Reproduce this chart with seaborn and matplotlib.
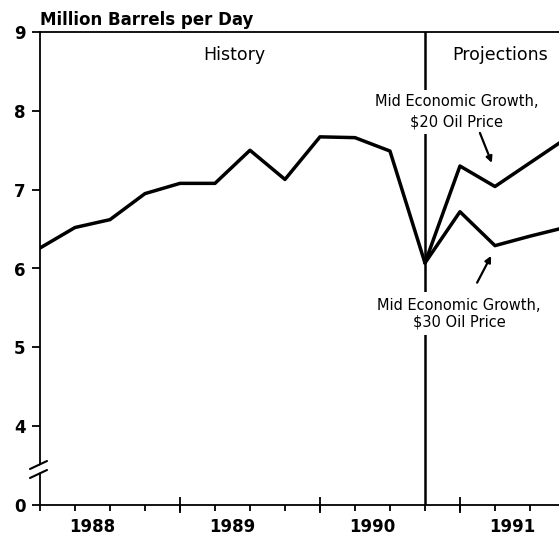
import numpy as np
import pandas as pd
import matplotlib
matplotlib.use("Agg")
import matplotlib.pyplot as plt
import seaborn as sns

sns.set_theme(style="white")
plt.rcParams["font.family"] = ["DejaVu Sans"]
plt.rcParams["text.color"] = "black"
plt.rcParams["xtick.color"] = "black"
plt.rcParams["ytick.color"] = "black"

# quarterly index: 0 = 1988 Q1
years = ["1988", "1989", "1990", "1991"]
year_centers = [1.5, 5.5, 9.5, 13.5]
year_starts = [4, 8, 12]
quarters = list(range(15))

hist_q = list(range(12))
hist_val = [6.26, 6.52, 6.62, 6.95, 7.08, 7.08, 7.50, 7.13, 7.67, 7.66, 7.49, 6.07]
proj_q = [11, 12, 13, 14, 15]
proj_20 = [6.07, 7.30, 7.04, 7.34, 7.64]
proj_30 = [6.07, 6.72, 6.29, 6.41, 6.52]

ytick_vals = [0, 4, 5, 6, 7, 8, 9]
# broken axis: 0 is drawn one unit below 4
ytick_pos = [3 if v == 0 else v for v in ytick_vals]
split_q = 11

fig = plt.figure(figsize=(5.59, 5.37), dpi=100)
ax = fig.add_axes([40 / 559, 32 / 537, 519 / 559, 473 / 537])

df = pd.concat([
    pd.DataFrame({"q": hist_q, "mbd": hist_val, "s": "hist"}),
    pd.DataFrame({"q": proj_q, "mbd": proj_20, "s": "p20"}),
    pd.DataFrame({"q": proj_q, "mbd": proj_30, "s": "p30"}),
])
for name, grp in df.groupby("s"):
    sns.lineplot(data=grp, x="q", y="mbd", ax=ax, color="black", lw=2.5,
                 estimator=None, sort=False, zorder=4)

ax.axvline(split_q, color="black", lw=1.8, zorder=1)

ax.set_xlim(0, 14.83)
ax.set_ylim(3, 9)
ax.set_xlabel("")
ax.set_ylabel("")

for side in ["left", "bottom", "top"]:
    ax.spines[side].set_color("black")
    ax.spines[side].set_linewidth(1.3)
ax.spines["right"].set_visible(False)

ax.set_yticks(ytick_pos)
ax.set_yticklabels([str(v) for v in ytick_vals], fontsize=12, fontweight="bold")
ax.tick_params(axis="y", direction="out", length=5.5, width=1.3, pad=5, left=True)

ax.set_xticks(year_centers)
ax.set_xticklabels(years, fontsize=12, fontweight="bold")
ax.set_xticks(quarters, minor=True)
ax.tick_params(axis="x", which="major", length=0, pad=9)
ax.tick_params(axis="x", which="minor", direction="out", length=4, width=1.3, bottom=True)

sec = ax.secondary_xaxis("bottom")
sec.set_xticks(year_starts)
sec.tick_params(direction="inout", length=11, width=1.3, labelbottom=False, color="black")
sec.spines["bottom"].set_visible(False)

# axis break marks
gap = plt.Polygon([(-0.0193, 0.0741), (0.0135, 0.0911), (0.0135, 0.0759), (-0.0193, 0.0589)],
                  closed=True, transform=ax.transAxes, fc="white", ec="none",
                  clip_on=False, zorder=5)
ax.add_patch(gap)
ax.plot([-0.0193, 0.0135], [0.0761, 0.0930], transform=ax.transAxes, color="black",
        lw=1.5, clip_on=False, zorder=6)
ax.plot([-0.0193, 0.0135], [0.0571, 0.0740], transform=ax.transAxes, color="black",
        lw=1.5, clip_on=False, zorder=6)

fig.text(40 / 559, 1 - 20 / 537, "Million Barrels per Day", fontsize=12,
         fontweight="bold", va="center", ha="left")

ax.text(5.54, 8.71, "History", fontsize=12.5, ha="center", va="center")
ax.text(13.14, 8.71, "Projections", fontsize=12.5, ha="center", va="center",
        bbox=dict(fc="white", ec="none", pad=1))

ax.text(11.91, 7.99, "Mid Economic Growth,\n$20 Oil Price", fontsize=10.5,
        ha="center", va="center", linespacing=1.45, zorder=3,
        bbox=dict(fc="white", ec="none", pad=3))
ax.text(11.97, 5.43, "Mid Economic Growth,\n$30 Oil Price", fontsize=10.5,
        ha="center", va="center", linespacing=1.15, zorder=3,
        bbox=dict(fc="white", ec="none", pad=4))

arrow = dict(arrowstyle="-|>", color="black", lw=1.6, mutation_scale=9,
             shrinkA=0, shrinkB=0)
ax.annotate("", xy=(12.91, 7.34), xytext=(12.57, 7.72), arrowprops=arrow, zorder=5)
ax.annotate("", xy=(12.89, 6.16), xytext=(12.49, 5.82), arrowprops=arrow, zorder=5)

fig.savefig("out.png", dpi=100)
